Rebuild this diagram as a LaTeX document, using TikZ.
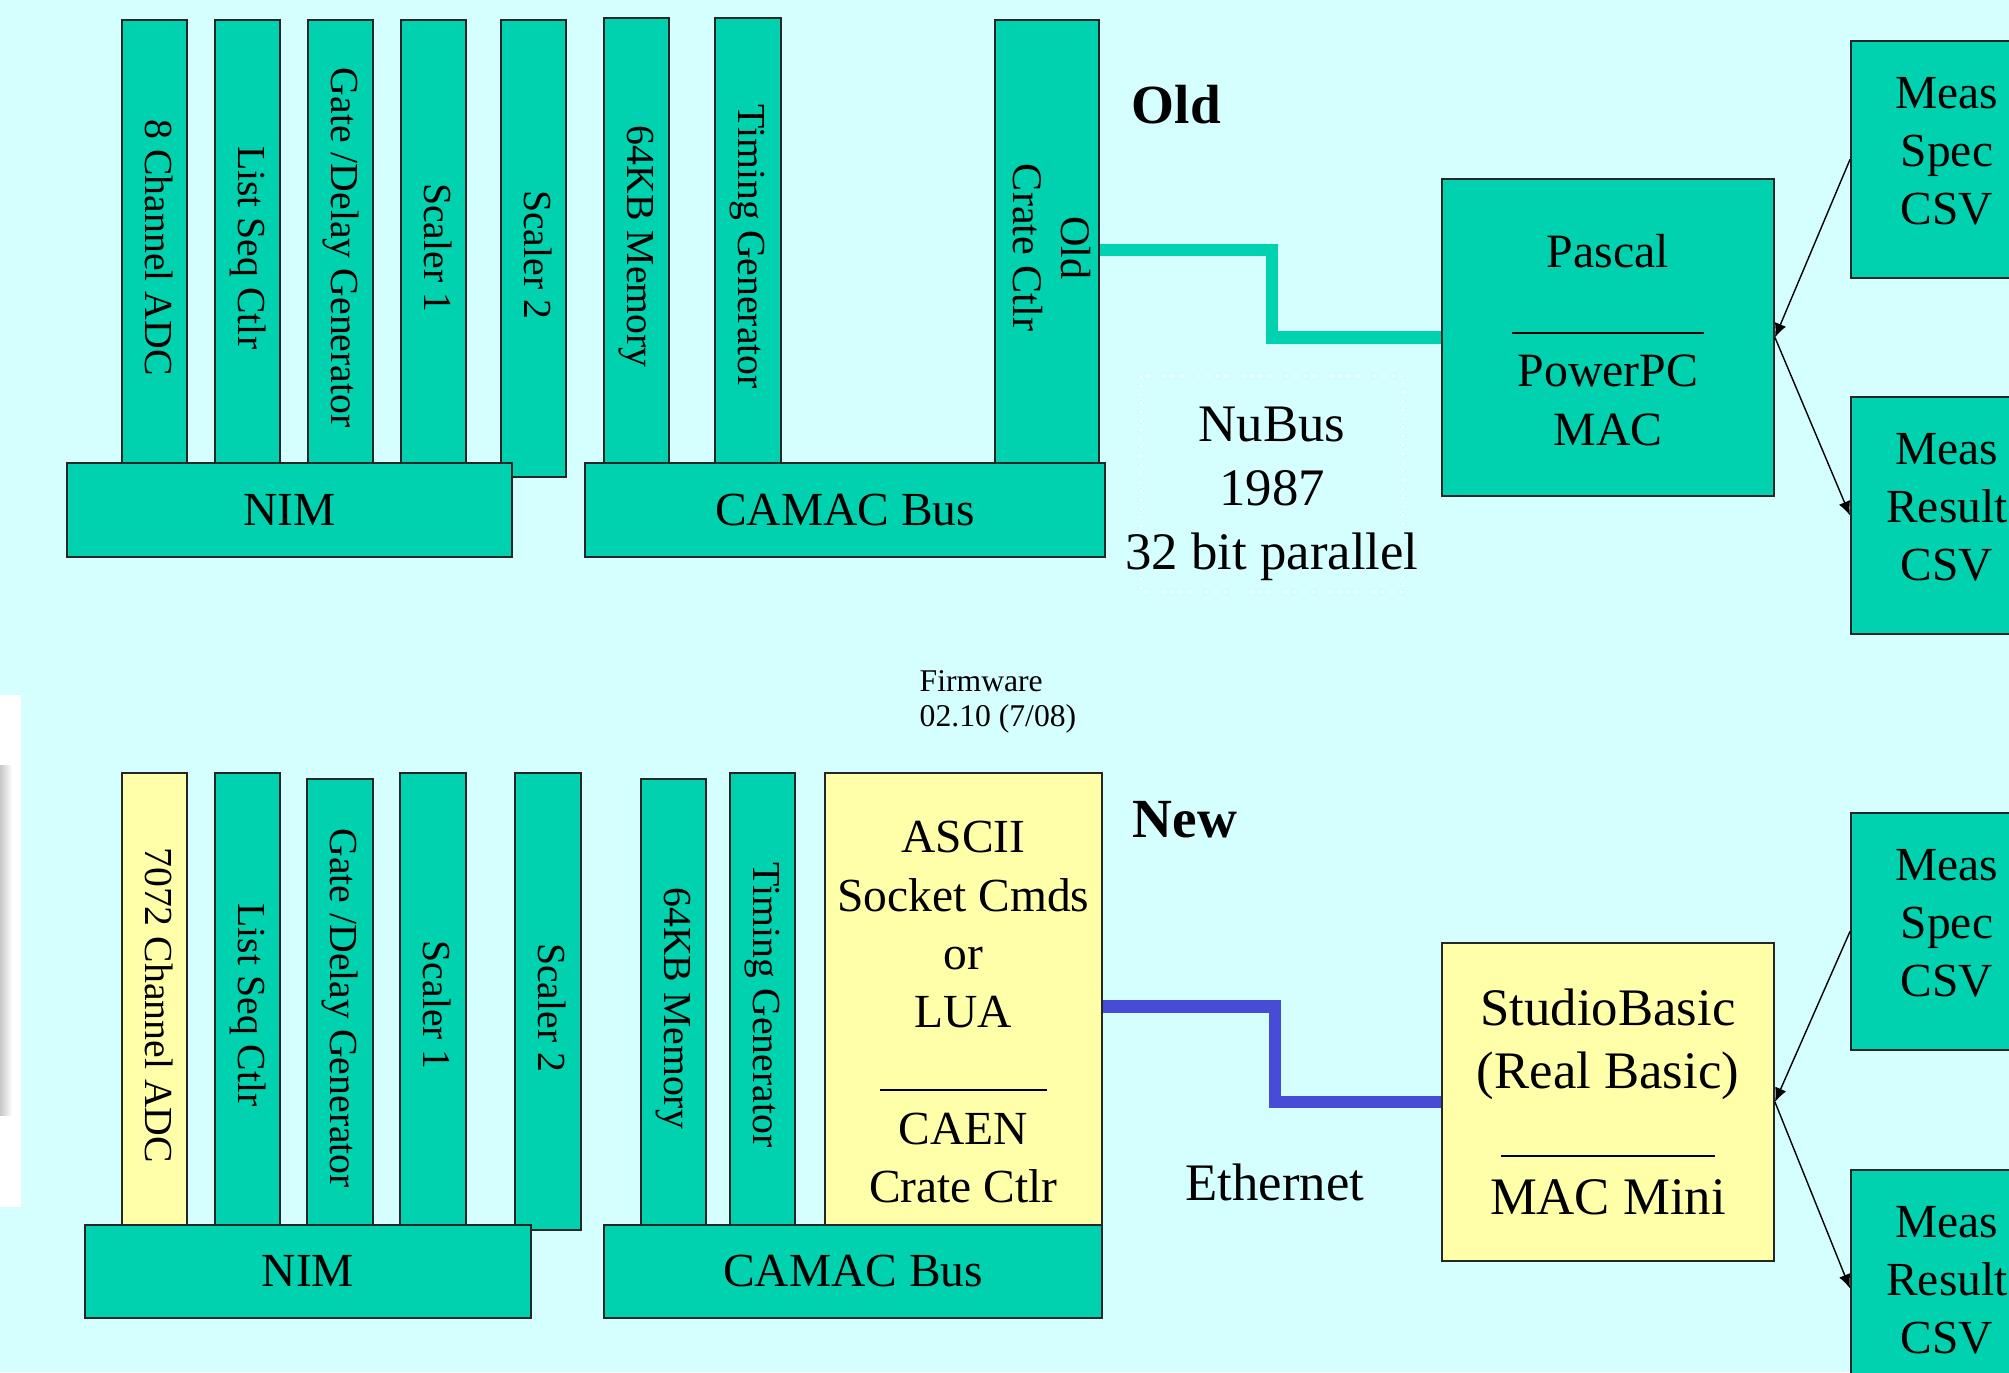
\documentclass[tikz,border=0pt]{standalone}
\usepackage{fontspec}
\setmainfont{Liberation Serif}
\usepackage{graphicx}
\usetikzlibrary{arrows.meta}

\definecolor{bgcyan}{RGB}{213,255,255}
\definecolor{modteal}{RGB}{0,210,175}
\definecolor{modyellow}{RGB}{255,255,170}
\definecolor{ethblue}{RGB}{70,76,214}

% vertical (top-to-bottom) label for a crate module
\newcommand{\vlabel}[1]{\rotatebox{-90}{\hspace*{3.5pt}\begin{tabular}{@{}c@{}}#1\end{tabular}}}

\begin{document}
\begin{tikzpicture}[x=0.01cm, y=-0.01cm, >={Latex[length=4pt, width=3.4pt]},
    card/.style={draw=black!85, line width=0.5pt, fill=modteal, anchor=north west, inner sep=0pt, align=center},
    slot/.style={card, font=\fontsize{11.3}{13}\selectfont},
    tall/.style={minimum width=0.65cm, minimum height=4.43cm},
    bus/.style={card, font=\fontsize{13.5}{16}\selectfont},
    meas/.style={card, minimum width=1.92cm, minimum height=2.37cm, font=\fontsize{13.5}{16.5}\selectfont},
    newpart/.style={fill=modyellow},
    link/.style={->, line width=0.4pt},
    cable/.style={line width=3.6pt, line join=miter},
    title/.style={font=\fontsize{15.7}{19}\selectfont\bfseries, anchor=west, inner sep=0pt}]
    % pixel grid of the slide: 1 unit = 1 px, origin top-left

    \useasboundingbox (0,0) rectangle (2009,1372);
    \fill[bgcyan] (0,0) rectangle (2009,1372);

    % white strip at the left edge, with its soft grey shadow
    \fill[white] (0,695) rectangle (21,1207);
    \shade[left color=black!22, right color=white] (0,765) rectangle (12,1115);

    % --- Old setup ---

    % NIM modules
    \node[slot, tall] (oldadc) at (121,19) {\vlabel{8 Channel ADC}};
    \node[slot, tall] (oldseq) at (214,19) {\vlabel{List Seq Ctlr}};
    \node[slot, tall] (oldgate) at (307,19) {\vlabel{Gate /Delay Generator}};
    \node[slot, tall] (oldscalerA) at (400,19) {\vlabel{Scaler 1}};
    \node[slot, minimum width=0.65cm, minimum height=4.57cm] (oldscalerB) at (500,19) {\vlabel{Scaler 2}};

    % CAMAC modules
    \node[slot, minimum width=0.65cm, minimum height=4.45cm] (oldmem) at (603,17) {\vlabel{64KB Memory}};
    \node[slot, minimum width=0.66cm, minimum height=4.45cm] (oldtiming) at (714,17) {\vlabel{Timing Generator}};
    \node[slot, minimum width=1.04cm, minimum height=4.43cm, font=\fontsize{12}{13.5}\selectfont] (oldctl) at (994,19)
        {\vlabel{Old\\Crate Ctlr}};

    % crates
    \node[bus, minimum width=4.45cm, minimum height=0.94cm] (oldnim) at (66,462) {NIM};
    \node[bus, minimum width=5.20cm, minimum height=0.94cm] (oldcamac) at (584,462) {CAMAC Bus};

    \node[title] (oldtitle) at (1131,105) {Old};

    % host computer and files
    \node[card, minimum width=3.32cm, minimum height=3.17cm, font=\fontsize{13.6}{16.8}\selectfont] (pascal) at (1441,178)
        {\rule{0pt}{11pt}Pascal\\\rule[-2pt]{1.91cm}{0.6pt}\\PowerPC\\MAC};
    \node[meas] (measspec) at (1850,40) {Meas\\Spec\\CSV\strut};
    \node[meas] (measres) at (1850,396) {Meas\\Result\\CSV\strut};

    % NuBus link
    \draw[white, dotted, line width=0.5pt] (1141,376) rectangle (1403,592);
    \node[font=\fontsize{15}{18.2}\selectfont, align=center] (nubus) at (1272,494) {NuBus\\1987\\32 bit parallel};
    \draw[cable, modteal] ([yshift=-0.085cm]oldctl.east) -- ++(172,0) |- (pascal.west);

    \draw[link] (measspec.west) -- (pascal.east);
    \draw[link] (pascal.east) -- (measres.west);

    % --- Firmware note ---
    \node[font=\fontsize{9}{10}\selectfont, align=left, anchor=north west, inner sep=0pt] (firmware) at (919,670)
        {Firmware\\02.10 (7/08)};

    % --- New setup ---

    % NIM modules
    \node[slot, newpart, minimum width=0.65cm, minimum height=4.52cm] (newadc) at (121,772) {\vlabel{7072 Channel ADC}};
    \node[slot, minimum width=0.65cm, minimum height=4.52cm] (newseq) at (214,772) {\vlabel{List Seq Ctlr}};
    \node[slot, minimum width=0.66cm, minimum height=4.46cm] (newgate) at (306,778) {\vlabel{Gate /Delay Generator}};
    \node[slot, minimum width=0.66cm, minimum height=4.52cm] (newscalerA) at (399,772) {\vlabel{Scaler 1}};
    \node[slot, minimum width=0.66cm, minimum height=4.57cm] (newscalerB) at (514,772) {\vlabel{Scaler 2}};

    % CAMAC modules
    \node[slot, minimum width=0.65cm, minimum height=4.46cm] (newmem) at (640,778) {\vlabel{64KB Memory}};
    \node[slot, minimum width=0.65cm, minimum height=4.52cm] (newtiming) at (729,772) {\vlabel{Timing Generator}};
    \node[card, newpart, minimum width=2.77cm, minimum height=4.52cm, font=\fontsize{13.5}{16.6}\selectfont] (caen) at (824,772)
        {\rule{0pt}{16.5pt}ASCII\\Socket Cmds\\or\\LUA\\\rule[-1.5pt]{1.66cm}{0.6pt}\\CAEN\\Crate Ctlr};

    % crates
    \node[bus, minimum width=4.46cm, minimum height=0.93cm] (newnim) at (84,1224) {NIM};
    \node[bus, minimum width=4.98cm, minimum height=0.93cm] (newcamac) at (603,1224) {CAMAC Bus};

    \node[title] (newtitle) at (1132,820) {New};

    % host computer and files
    \node[card, newpart, minimum width=3.32cm, minimum height=3.18cm, font=\fontsize{15}{18}\selectfont] (studio) at (1441,942)
        {StudioBasic\\(Real Basic)\\\rule[-1.5pt]{2.14cm}{0.6pt}\\MAC Mini};
    \node[meas] (newmeasspec) at (1850,812) {Meas\\Spec\\CSV\strut};
    \node[meas] (newmeasres) at (1850,1169) {Meas\\Result\\CSV\strut};

    % Ethernet link
    \node[font=\fontsize{15}{18}\selectfont] (ethernet) at (1275,1182) {Ethernet};
    \draw[cable, ethblue] ([yshift=-0.075cm]caen.east) -- ++(172,0) |- (studio.west);

    \draw[link] (newmeasspec.west) -- (studio.east);
    \draw[link] (studio.east) -- (newmeasres.west);

\end{tikzpicture}
\end{document}
